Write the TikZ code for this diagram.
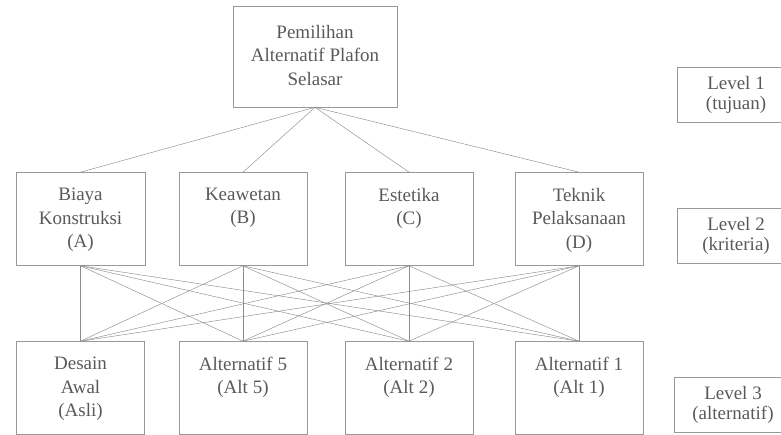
\documentclass[tikz,border=0pt]{standalone}
\usepackage{fontspec}
\setmainfont{Liberation Serif}
\usetikzlibrary{positioning}

\newcommand{\boxtext}[4]{\parbox[t][#2][t]{#1}{\centering\vspace*{#3}#4}}

\begin{document}
\begin{tikzpicture}[x=1pt, y=-1pt, on grid,
box/.style ={draw=black!40, line width=0.6pt, text=black!65, inner sep=0pt,
  font=\fontsize{19}{23.5}\selectfont},
lvl/.style ={draw=black!40, line width=0.6pt, text=black!65, align=center,
  minimum width=118pt, minimum height=55pt, inner sep=0pt,
  font=\fontsize{19}{20}\selectfont},
link/.style ={draw=black!45, line width=0.45pt}]
\useasboundingbox (0,0) rectangle (781,435);
% level 1
\node[box] (goal) at (315,56.5) {\boxtext{164pt}{101pt}{19pt}{Pemilihan\\ Alternatif Plafon\\ Selasar}};
% level 2
\node[box] (A) at (80.5,219) {\boxtext{129pt}{93pt}{15.5pt}{Biaya\\ Konstruksi\\ (A)}};
\node[box] (B) [right = 162.5pt of A] {\boxtext{128pt}{93pt}{15.5pt}{Keawetan\\ (B)}};
\node[box] (C) [right = 166pt of B] {\boxtext{128pt}{93pt}{15.5pt}{Estetika\\ (C)}};
\node[box] (D) [right = 170pt of C] {\boxtext{128pt}{93pt}{15.5pt}{Teknik\\ Pelaksanaan\\ (D)}};
% level 3
\node[box] (asli) [below = 169pt of A] {\boxtext{128pt}{93pt}{15.5pt}{Desain\\ Awal\\ (Asli)}};
\node[box] (alt5) [below = 169pt of B] {\boxtext{128pt}{93pt}{15.5pt}{Alternatif 5\\ (Alt 5)}};
\node[box] (alt2) [below = 169pt of C] {\boxtext{128pt}{93pt}{15.5pt}{Alternatif 2\\ (Alt 2)}};
\node[box] (alt1) [below = 169pt of D] {\boxtext{128pt}{93pt}{15.5pt}{Alternatif 1\\ (Alt 1)}};
% level labels
\node[lvl] (L1) at (736,94.5) {Level 1\\ (tujuan)};
\node[lvl] (L2) at (736,235.5) {Level 2\\ (kriteria)};
\node[lvl] (L3) at (733,404.5) {Level 3\\ (alternatif)};
% connectors
\foreach \k in {A,B,C,D}
  \draw[link] (goal.south) -- (\k.north);
\foreach \k in {A,B,C,D}
  \foreach \a in {asli,alt5,alt2,alt1}
    \draw[link] (\k.south) -- (\a.north);
\end{tikzpicture}
\end{document}
